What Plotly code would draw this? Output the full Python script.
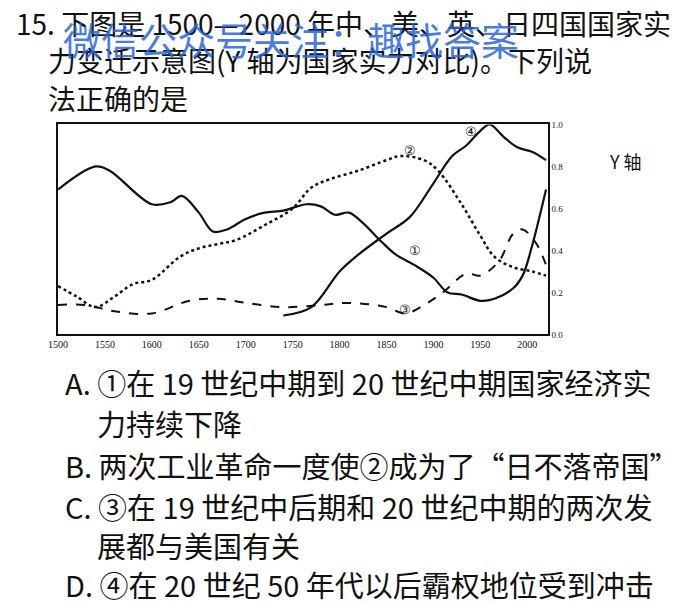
import plotly.graph_objects as go

# Line 1 (solid)
y1_years = [1500,1540,1555,1600,1620,1632,1650,1665,1680,1700,1720,1740,1765,1780,1795,1810,1825,1845,1860,1880,1900,1915,1930,1950,1965,1985,1995,2005,2020]
y1_vals  = [0.69,0.80,0.78,0.62,0.63,0.66,0.58,0.49,0.50,0.55,0.58,0.59,0.62,0.61,0.57,0.58,0.53,0.44,0.38,0.33,0.27,0.20,0.19,0.16,0.17,0.22,0.28,0.42,0.69]
# Line 4 (solid)
y4_years = [1740,1770,1800,1820,1850,1875,1900,1920,1935,1950,1960,1975,1990,2005,2020]
y4_vals  = [0.09,0.13,0.30,0.38,0.48,0.56,0.72,0.85,0.90,0.97,1.00,0.94,0.89,0.87,0.83]
# Line 2 (dotted)
y2_years = [1500,1520,1540,1560,1580,1600,1630,1650,1670,1690,1720,1750,1770,1790,1820,1850,1865,1890,1905,1930,1950,1965,1985,2005,2020]
y2_vals  = [0.23,0.18,0.13,0.18,0.24,0.26,0.37,0.41,0.43,0.45,0.52,0.60,0.70,0.74,0.78,0.83,0.85,0.83,0.78,0.62,0.47,0.37,0.32,0.30,0.28]
# Line 3 (dashed)
y3_years = [1500,1530,1560,1600,1640,1670,1700,1740,1780,1810,1850,1870,1890,1910,1935,1950,1970,1985,1995,2010,2020]
y3_vals  = [0.14,0.14,0.11,0.10,0.16,0.17,0.15,0.13,0.14,0.15,0.13,0.10,0.14,0.20,0.29,0.28,0.35,0.48,0.50,0.43,0.33]

x_ticks = [1500,1550,1600,1650,1700,1750,1800,1850,1900,1950,2000]
y_ticks = [0.0,0.2,0.4,0.6,0.8,1.0]
labels = [("④",1940,0.97),("②",1875,0.88),("①",1880,0.40),("③",1870,0.12)]

fig = go.Figure()
sp = dict(shape="spline", smoothing=1.0, color="#111")
fig.add_trace(go.Scatter(x=y1_years, y=y1_vals, mode="lines", line=dict(width=2.2, **sp)))
fig.add_trace(go.Scatter(x=y4_years, y=y4_vals, mode="lines", line=dict(width=2.2, **sp)))
fig.add_trace(go.Scatter(x=y2_years, y=y2_vals, mode="lines", line=dict(width=2.5, dash="dot", **sp)))
fig.add_trace(go.Scatter(x=y3_years, y=y3_vals, mode="lines", line=dict(width=2, dash="dash", **sp)))

for t, xx, yy in labels:
    fig.add_annotation(x=xx, y=yy, text=t, showarrow=False, font=dict(size=13, color="#111"))

fig.update_xaxes(domain=[0.058,0.768], range=[1500,2022], tickvals=x_ticks, showgrid=False, zeroline=False,
                 showline=True, linecolor="#111", linewidth=1.5, mirror=True, ticks="",
                 tickfont=dict(family="Liberation Serif", size=10, color="#111"))
fig.update_yaxes(domain=[0.458,0.812], range=[0,1.0], tickvals=y_ticks, tickformat=".1f", side="right",
                 showgrid=False, zeroline=False, showline=True, linecolor="#111", linewidth=1.5, mirror=True, ticks="",
                 tickfont=dict(family="Liberation Serif", size=9, color="#111"))

F = "Noto Sans CJK SC"
def txt(s, x, y, size=28, color="#111"):
    fig.add_annotation(xref="paper", yref="paper", x=x/700, y=1-y/603, text=s, showarrow=False,
                       xanchor="left", yanchor="middle", font=dict(family=F, size=size, color=color))

txt("15. 下图是 1500—2000 年中、美、英、日四国国家实", -4, 10)
txt("力变迁示意图(Y 轴为国家实力对比)。下列说", 28, 48)
txt("法正确的是", 28, 86)
txt("Y 轴", 598, 151, size=18)
txt("A. ①在 19 世纪中期到 20 世纪中期国家经济实", 46, 375, size=29)
txt("力持续下降", 78, 417, size=29)
txt("B. 两次工业革命一度使②成为了“日不落帝国”", 46, 460, size=29)
txt("C. ③在 19 世纪中后期和 20 世纪中期的两次发", 46, 501, size=29)
txt("展都与美国有关", 78, 541, size=29)
txt("D. ④在 20 世纪 50 年代以后霸权地位受到冲击", 46, 581, size=29)
txt("微信公众号关注：趣找答案", 44, 26, size=38, color="rgba(40,100,220,0.85)")

fig.update_layout(width=700, height=603, margin=dict(l=0, r=0, t=0, b=0), showlegend=False,
                  paper_bgcolor="white", plot_bgcolor="white")
fig.write_html("out.html")
